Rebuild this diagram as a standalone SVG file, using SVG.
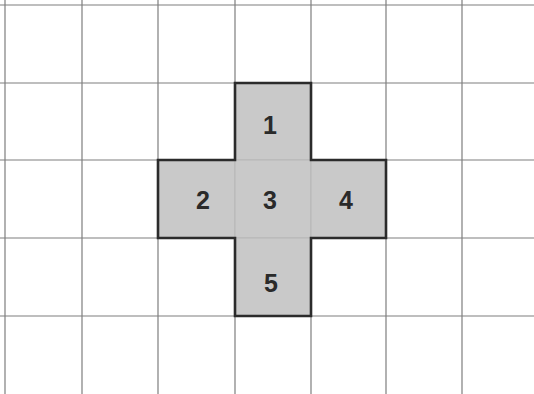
<svg xmlns="http://www.w3.org/2000/svg" width="534" height="394" viewBox="0 0 534 394">
<style>
.grid line{stroke:#7e7e7e;stroke-width:1.2}
.cell{fill:#c9c9c9;stroke:#b4b4b4;stroke-width:0.8}
.num{font-family:"Liberation Sans",Arial,sans-serif;font-size:25px;font-weight:bold;fill:#2a2a2a;text-anchor:middle}
</style>
<rect width="534" height="394" fill="#ffffff"/>
<g class="grid">
<line x1="5" y1="0" x2="5" y2="394"/>
<line x1="82" y1="0" x2="82" y2="394"/>
<line x1="158" y1="0" x2="158" y2="394"/>
<line x1="235" y1="0" x2="235" y2="394"/>
<line x1="311" y1="0" x2="311" y2="394"/>
<line x1="386" y1="0" x2="386" y2="394"/>
<line x1="462" y1="0" x2="462" y2="394"/>
<line x1="0" y1="5" x2="534" y2="5"/>
<line x1="0" y1="83" x2="534" y2="83"/>
<line x1="0" y1="160" x2="534" y2="160"/>
<line x1="0" y1="238" x2="534" y2="238"/>
<line x1="0" y1="316" x2="534" y2="316"/>
</g>
<g id="cell1"><rect class="cell" x="235" y="83" width="76" height="77"/><text class="num" x="270" y="134">1</text></g>
<g id="cell2"><rect class="cell" x="158" y="160" width="77" height="78"/><text class="num" x="203" y="209">2</text></g>
<g id="cell3"><rect class="cell" x="235" y="160" width="76" height="78"/><text class="num" x="270" y="209">3</text></g>
<g id="cell4"><rect class="cell" x="311" y="160" width="75" height="78"/><text class="num" x="346" y="209">4</text></g>
<g id="cell5"><rect class="cell" x="235" y="238" width="76" height="78"/><text class="num" x="271" y="292">5</text></g>
<path d="M235 83H311V160H386V238H311V316H235V238H158V160H235Z" fill="none" stroke="#2b2b2b" stroke-width="2.6" stroke-linejoin="miter"/>
</svg>
